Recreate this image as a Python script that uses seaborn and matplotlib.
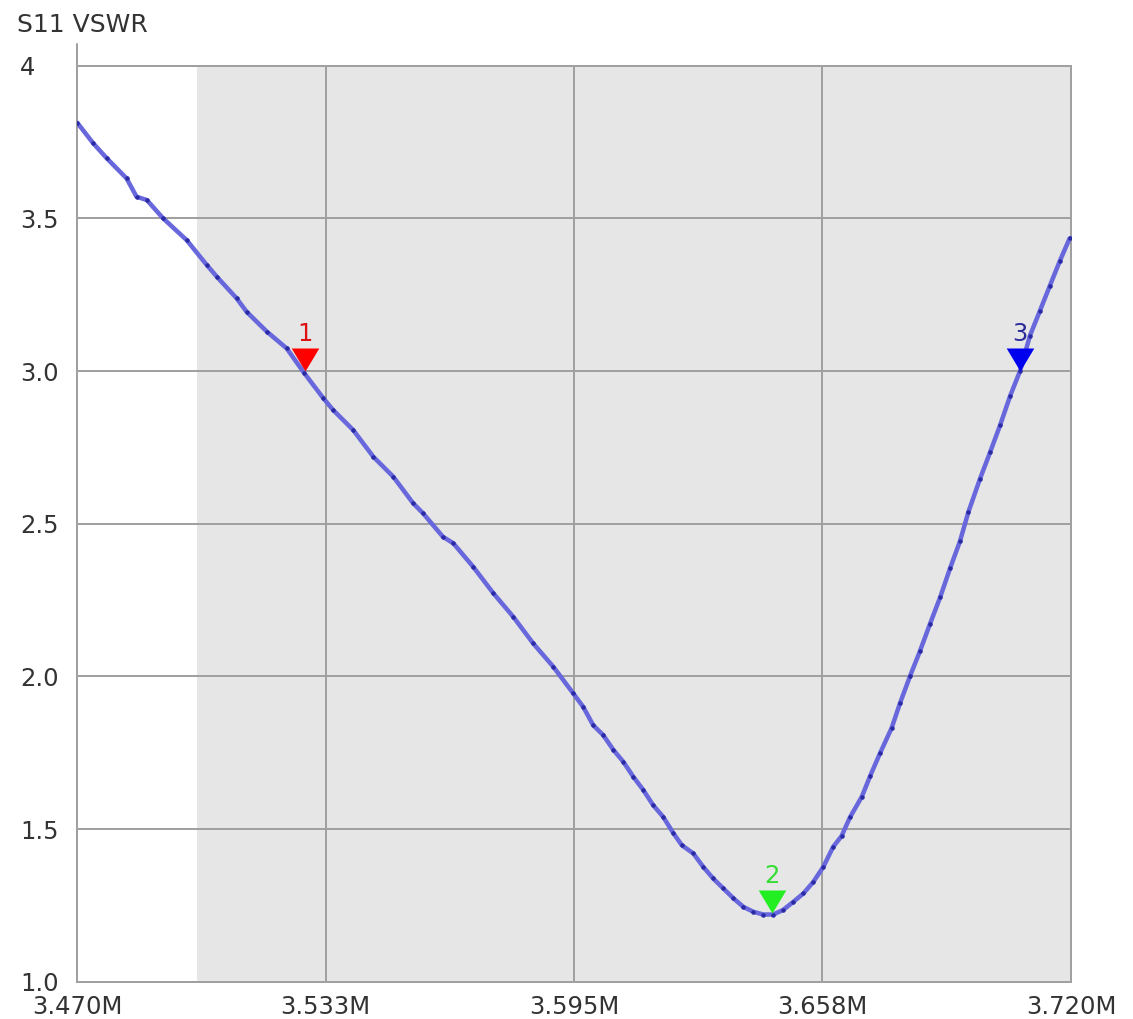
import matplotlib
matplotlib.use("Agg")
import matplotlib.pyplot as plt
import seaborn as sns
import pandas as pd

# S11 VSWR sweep (frequency in MHz)
freq_mhz = [
    3.4700, 3.4740, 3.4774, 3.4824, 3.4849, 3.4875, 3.4916, 3.4975, 3.5026, 3.5051,
    3.5101, 3.5126, 3.5177, 3.5227, 3.5270, 3.5319, 3.5344, 3.5394, 3.5445, 3.5495,
    3.5545, 3.5570, 3.5620, 3.5646, 3.5696, 3.5747, 3.5797, 3.5847, 3.5898, 3.5948,
    3.5973, 3.5998, 3.6023, 3.6049, 3.6074, 3.6099, 3.6124, 3.6149, 3.6174, 3.6200,
    3.6221, 3.6250, 3.6275, 3.6300, 3.6325, 3.6351, 3.6376, 3.6401, 3.6426, 3.6451,
    3.6476, 3.6502, 3.6527, 3.6552, 3.6577, 3.6602, 3.6623, 3.6644, 3.6674, 3.6695,
    3.6720, 3.6749, 3.6770, 3.6795, 3.6820, 3.6845, 3.6871, 3.6896, 3.6921, 3.6942,
    3.6971, 3.6997, 3.7022, 3.7047, 3.7072, 3.7097, 3.7122, 3.7147, 3.7172, 3.7197,
]
vswr = [
    3.813, 3.746, 3.697, 3.631, 3.571, 3.560, 3.500, 3.429, 3.347, 3.309,
    3.238, 3.194, 3.129, 3.074, 2.995, 2.911, 2.872, 2.807, 2.719, 2.654,
    2.567, 2.534, 2.457, 2.436, 2.359, 2.272, 2.195, 2.108, 2.031, 1.944,
    1.900, 1.840, 1.808, 1.759, 1.720, 1.671, 1.628, 1.578, 1.540, 1.486,
    1.447, 1.420, 1.376, 1.338, 1.306, 1.273, 1.245, 1.229, 1.220, 1.220,
    1.235, 1.262, 1.289, 1.327, 1.376, 1.442, 1.477, 1.538, 1.606, 1.674,
    1.749, 1.831, 1.912, 2.000, 2.082, 2.170, 2.259, 2.354, 2.443, 2.538,
    2.646, 2.735, 2.823, 2.918, 3.000, 3.116, 3.197, 3.279, 3.360, 3.435,
]

# Markers
marker_names = ["1", "2", "3"]
marker_freqs = [3.5273, 3.6448, 3.7072]
marker_vswr = [3.000, 1.225, 3.000]
marker_colors = ["#ff0000", "#22ee22", "#0000ee"]
marker_text_colors = ["#dd1111", "#33dd33", "#2b2b9a"]

# Band of interest (shaded)
band_start, band_stop = 3.500, 3.720

x_ticks = [3.470, 3.5325, 3.595, 3.6575, 3.720]
x_tick_labels = ["3.470M", "3.533M", "3.595M", "3.658M", "3.720M"]
y_ticks = [1.0, 1.5, 2.0, 2.5, 3.0, 3.5, 4.0]
y_tick_labels = ["1.0", "1.5", "2.0", "2.5", "3.0", "3.5", "4"]

sns.set_style("white")
plt.rcParams["font.family"] = ["DejaVu Sans"]

W, H, DPI = 1133, 1019, 100
fig = plt.figure(figsize=(W / DPI, H / DPI), dpi=DPI, facecolor="white")
ax = fig.add_axes([77.3 / W, 1 - 981.7 / H, (1070.9 - 77.3) / W, (981.7 - 65.7) / H])
ax.set_facecolor("white")

grid_c = "#a0a0a0"
text_c = "#333333"
px = 72.0 / DPI  # points per pixel

ax.axvspan(band_start, band_stop, color="#e6e6e6", zorder=0, lw=0)

df = pd.DataFrame({"freq": freq_mhz, "vswr": vswr})
sns.lineplot(data=df, x="freq", y="vswr", ax=ax, color="#6868dc", lw=4.5 * px,
             marker="o", markersize=4.5 * px, markerfacecolor="#2a2aa5",
             markeredgewidth=0, zorder=3)

# Triangle marker with its tip at the data point
tri = [(0, 0), (-0.6, 1.0), (0.6, 1.0), (0, 0)]
for name, f, v, c, tc in zip(marker_names, marker_freqs, marker_vswr,
                             marker_colors, marker_text_colors):
    ax.plot([f], [v], marker=tri, markersize=46 * px, color=c,
            markeredgewidth=0, linestyle="none", zorder=4)
    ax.annotate(name, (f, v), xytext=(0, 30 * px), textcoords="offset points",
                ha="center", va="baseline", fontsize=17.5, color=tc, zorder=5)

ax.set_xlim(3.470, 3.720)
ax.set_ylim(1.0, 4.0)
ax.set_xticks(x_ticks)
ax.set_xticklabels(x_tick_labels)
ax.set_yticks(y_ticks)
ax.set_yticklabels(y_tick_labels, ha="left")
ax.set_xlabel("")
ax.set_ylabel("")

ax.grid(True, color=grid_c, lw=2 * px, zorder=1)
ax.set_axisbelow(True)
for s in ax.spines.values():
    s.set_color(grid_c)
    s.set_linewidth(2 * px)

ax.tick_params(axis="x", direction="out", length=20 * px, width=2 * px,
               color=grid_c, labelsize=17.5, labelcolor=text_c, pad=-7 * px)
ax.tick_params(axis="y", direction="out", length=11 * px, width=2 * px,
               color=grid_c, labelsize=17.5, labelcolor=text_c, pad=46 * px)

# left axis line runs a little above the top of the plot
ax.axvline(3.470, ymin=1.0, ymax=1.0 + 22 / 916, color=grid_c, lw=2 * px, clip_on=False)

fig.text(17 / W, 1 - 32 / H, "S11 VSWR", ha="left", va="baseline",
         fontsize=18, color=text_c)

fig.savefig("out.png", dpi=DPI, facecolor="white")
